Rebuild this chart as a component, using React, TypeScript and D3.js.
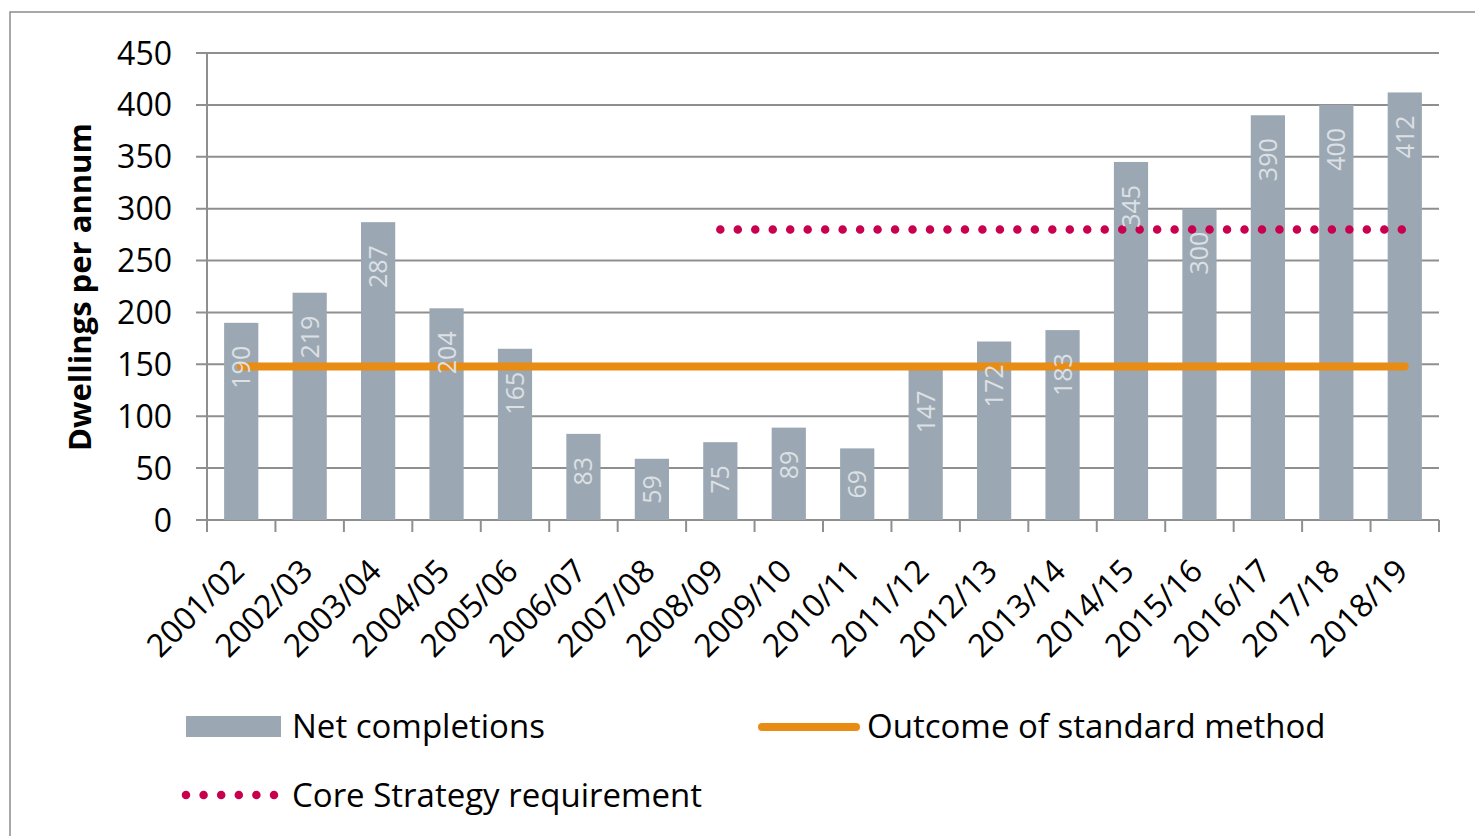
import React from "react";
import * as d3 from "d3";

const categories = ["2001/02","2002/03","2003/04","2004/05","2005/06","2006/07","2007/08","2008/09","2009/10","2010/11","2011/12","2012/13","2013/14","2014/15","2015/16","2016/17","2017/18","2018/19"];
const netCompletions = [190,219,287,204,165,83,59,75,89,69,147,172,183,345,300,390,400,412];
const standardMethod = 148;
const coreStrategy = 280;
const coreStrategyFrom = "2008/09";
const yTicks = [0,50,100,150,200,250,300,350,400,450];
const legendLabels = ["Net completions", "Outcome of standard method", "Core Strategy requirement"];

const W = 1475, H = 836;
const FONT = "'Open Sans', 'Noto Sans', sans-serif";
const BAR = "#9ba8b3";
const GRID = "#8f8f8f";
const ORANGE = "#e88c14";
const CRIMSON = "#c8004e";
const LABEL = "#dce0e5";

export default function App() {
  const x = d3.scaleBand<string>().domain(categories).range([207, 1439]).paddingInner(0.5).paddingOuter(0.25);
  const y = d3.scaleLinear().domain([0, 450]).range([520, 53]);
  const step = x.step();
  const center = (c: string) => (x(c) as number) + x.bandwidth() / 2;
  const boundaries = d3.range(categories.length + 1).map(i => 207 + i * step);
  const labelSize = 25;
  const first = categories[0], last = categories[categories.length - 1];
  const dotX1 = center(coreStrategyFrom);
  const dotX2 = center(last) - 3;
  const nDots = Math.round((dotX2 - dotX1) / 17.5);
  const dotGap = (dotX2 - dotX1) / nDots;

  return (
    <svg width={W} height={H} style={{ position: "absolute", left: 0, top: 0, background: "#fff" }} fontFamily={FONT}>
      <rect x={10} y={12} width={W + 20} height={H + 20} fill="#fff" stroke="#8c8c8c" strokeWidth={1.5} />
      {/* gridlines */}
      {yTicks.map(t => (
        <line key={"g" + t} x1={196} x2={1439} y1={y(t)} y2={y(t)} stroke={GRID} strokeWidth={2} />
      ))}
      {/* y axis */}
      <line x1={207} x2={207} y1={y(450)} y2={y(0)} stroke={GRID} strokeWidth={2} />
      {yTicks.map(t => (
        <text key={"yl" + t} x={172} y={y(t)} dy="0.36em" textAnchor="end" fontSize={32} fill="#000">{t}</text>
      ))}
      {/* x ticks */}
      {boundaries.map((b, i) => (
        <line key={"xt" + i} x1={b} x2={b} y1={y(0)} y2={y(0) + 12} stroke={GRID} strokeWidth={2} />
      ))}
      {/* bars */}
      {categories.map((c, i) => (
        <rect key={"b" + c} x={x(c)} y={y(netCompletions[i])} width={x.bandwidth()} height={y(0) - y(netCompletions[i])} fill={BAR} />
      ))}
      {/* standard method line */}
      <line x1={center(first)} x2={center(last)} y1={y(standardMethod)} y2={y(standardMethod)} stroke={ORANGE} strokeWidth={8} strokeLinecap="round" />
      {/* core strategy dotted */}
      <line x1={dotX1} x2={dotX2 + 0.01} y1={y(coreStrategy)} y2={y(coreStrategy)} stroke={CRIMSON} strokeWidth={8.5} strokeLinecap="round" strokeDasharray={`0 ${dotGap}`} />
      {/* value labels */}
      {categories.map((c, i) => {
        const v = netCompletions[i];
        const top = y(v);
        const barH = y(0) - top;
        const len = String(v).length * 0.572 * labelSize;
        const off = barH < len + 46 ? (barH - len) / 2 : 23;
        return (
          <text key={"vl" + c} transform={`translate(${center(c)},${top + off}) rotate(-90)`} dy="0.36em" textAnchor="end" fontSize={labelSize} fill={LABEL}>{v}</text>
        );
      })}
      {/* x labels */}
      {categories.map(c => (
        <text key={"xl" + c} transform={`translate(${center(c) + 5},${573}) rotate(-45)`} textAnchor="end" fontSize={32} fill="#000">{c}</text>
      ))}
      {/* y title */}
      <text transform={`translate(80,287) rotate(-90)`} dy="0.36em" textAnchor="middle" fontSize={31} fontWeight="bold" fill="#000">Dwellings per annum</text>
      {/* legend */}
      <rect x={186} y={716} width={95} height={21} fill={BAR} />
      <text x={292} y={738} fontSize={33} fill="#000">{legendLabels[0]}</text>
      <line x1={762} x2={856} y1={727} y2={727} stroke={ORANGE} strokeWidth={8} strokeLinecap="round" />
      <text x={867} y={738} fontSize={33} fill="#000">{legendLabels[1]}</text>
      <line x1={186} x2={274} y1={795} y2={795} stroke={CRIMSON} strokeWidth={8.5} strokeLinecap="round" strokeDasharray="0 17.6" />
      <text x={292} y={807} fontSize={33} fill="#000">{legendLabels[2]}</text>
    </svg>
  );
}
